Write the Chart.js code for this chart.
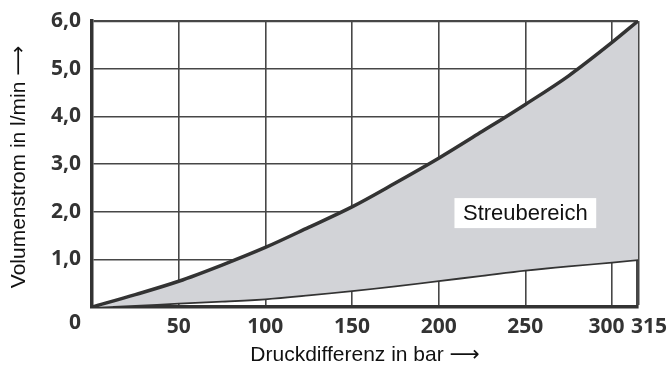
<!DOCTYPE html>
<html>
<head>
<meta charset="utf-8">
<script src="https://cdn.jsdelivr.net/npm/chart.js@4/dist/chart.umd.min.js"></script>
<style>
  html, body { margin: 0; padding: 0; background: #ffffff; }
  #wrap { width: 669px; height: 368px; }
</style>
</head>
<body>
<div id="wrap"><canvas id="c" width="669" height="368"></canvas></div>
<script>
// Pressure difference in bar (x) and flow range in l/min (upper / lower bound)
const pressure = [0, 25, 50, 75, 100, 125, 150, 175, 200, 225, 250, 275, 300, 315];
const flowUpper = [0, 0.26, 0.54, 0.88, 1.25, 1.67, 2.1, 2.6, 3.12, 3.68, 4.25, 4.85, 5.55, 6.0];
const flowLower = [0, 0.04, 0.09, 0.13, 0.18, 0.26, 0.35, 0.45, 0.56, 0.67, 0.78, 0.87, 0.95, 1.0];

// Axis ticks and their labels
const xTicks = [0, 50, 100, 150, 200, 250, 300, 315];
const xTickLabels = ['', '50', '100', '150', '200', '250', '300  ', '    315'];
const yTicks = [0, 1, 2, 3, 4, 5, 6];
const yTickLabels = [['', '0'], '1,0', '2,0', '3,0', '4,0', '5,0', '6,0'];

const xTitle = 'Druckdifferenz in bar \u27F6';
const yTitle = 'Volumenstrom in l/min \u27F6';
const bandLabel = 'Streubereich';
const bandLabelAt = { x: 250, y: 1.97 };

const toPoints = (xs, ys) => xs.map((x, i) => ({ x: x, y: ys[i] }));

const ink = '#333333';
const gridInk = '#474747';
const tickFont = { family: '"Open Sans", "DejaVu Sans Condensed", sans-serif', size: 21, weight: 'bold', lineHeight: 1.5 };
const titleFont = { family: '"Liberation Sans", "DejaVu Sans", sans-serif', size: 21, weight: 'normal' };

// Boxed label placed in data coordinates over the band
const bandLabelPlugin = {
  id: 'bandLabel',
  afterDraw(chart) {
    const { ctx, scales } = chart;
    const cx = scales.x.getPixelForValue(bandLabelAt.x);
    const cy = scales.y.getPixelForValue(bandLabelAt.y);
    ctx.save();
    ctx.font = '22px "Liberation Sans", Arial, sans-serif';
    const w = ctx.measureText(bandLabel).width + 17;
    const h = 30;
    ctx.fillStyle = '#ffffff';
    ctx.fillRect(cx - w / 2, cy - h / 2, w, h);
    ctx.fillStyle = '#111111';
    ctx.textAlign = 'center';
    ctx.textBaseline = 'middle';
    ctx.fillText(bandLabel, cx, cy + 1);
    ctx.restore();
  }
};

new Chart(document.getElementById('c'), {
  type: 'line',
  data: {
    datasets: [
      {
        label: 'max',
        data: toPoints(pressure, flowUpper),
        borderColor: ink,
        borderWidth: 3.5,
        pointRadius: 0,
        cubicInterpolationMode: 'monotone',
        fill: '+1',
        backgroundColor: '#d2d3d7'
      },
      {
        label: 'min',
        data: toPoints(pressure, flowLower),
        borderColor: ink,
        borderWidth: 3.5,
        pointRadius: 0,
        cubicInterpolationMode: 'monotone',
        fill: false
      }
    ]
  },
  options: {
    responsive: false,
    animation: false,
    events: [],
    layout: { padding: { left: 0, top: 21, right: 31, bottom: 0 } },
    plugins: { legend: { display: false }, tooltip: { enabled: false } },
    scales: {
      x: {
        type: 'linear',
        min: 0,
        max: 315,
        z: 1,
        afterBuildTicks(scale) { scale.ticks = xTicks.map(v => ({ value: v })); },
        afterFit(scale) { scale.height = 61; scale.paddingLeft = 0; scale.paddingRight = 0; },
        grid: {
          color: gridInk,
          lineWidth: ctx => (ctx.tick && ctx.tick.value === 315 ? 3.5 : 1.6),
          drawTicks: false
        },
        border: { display: true, color: ink, width: 3.5 },
        ticks: {
          autoSkip: false,
          maxRotation: 0,
          minRotation: 0,
          padding: 4,
          color: ink,
          font: tickFont,
          callback: (v) => { const i = xTicks.indexOf(v); return i >= 0 ? xTickLabels[i] : ''; }
        },
        title: { display: true, text: xTitle, color: '#111111', font: titleFont, padding: { top: 0, bottom: 0 } }
      },
      y: {
        type: 'linear',
        min: 0,
        max: 6,
        z: 1,
        afterBuildTicks(scale) { scale.ticks = yTicks.map(v => ({ value: v })); },
        afterFit(scale) { scale.width = 92; scale.paddingTop = 0; scale.paddingBottom = 0; },
        grid: {
          color: gridInk,
          lineWidth: ctx => (ctx.tick && ctx.tick.value === 6 ? 2.2 : 1.6),
          drawTicks: false
        },
        border: { display: true, color: ink, width: 3.5 },
        ticks: {
          autoSkip: false,
          padding: 11,
          color: ink,
          font: tickFont,
          callback: (v) => { const i = yTicks.indexOf(v); return i >= 0 ? yTickLabels[i] : ''; }
        },
        title: { display: true, text: yTitle + ' ', color: '#111111', font: titleFont, padding: { top: 7, bottom: 0 } }
      }
    }
  },
  plugins: [bandLabelPlugin]
});
</script>
</body>
</html>
